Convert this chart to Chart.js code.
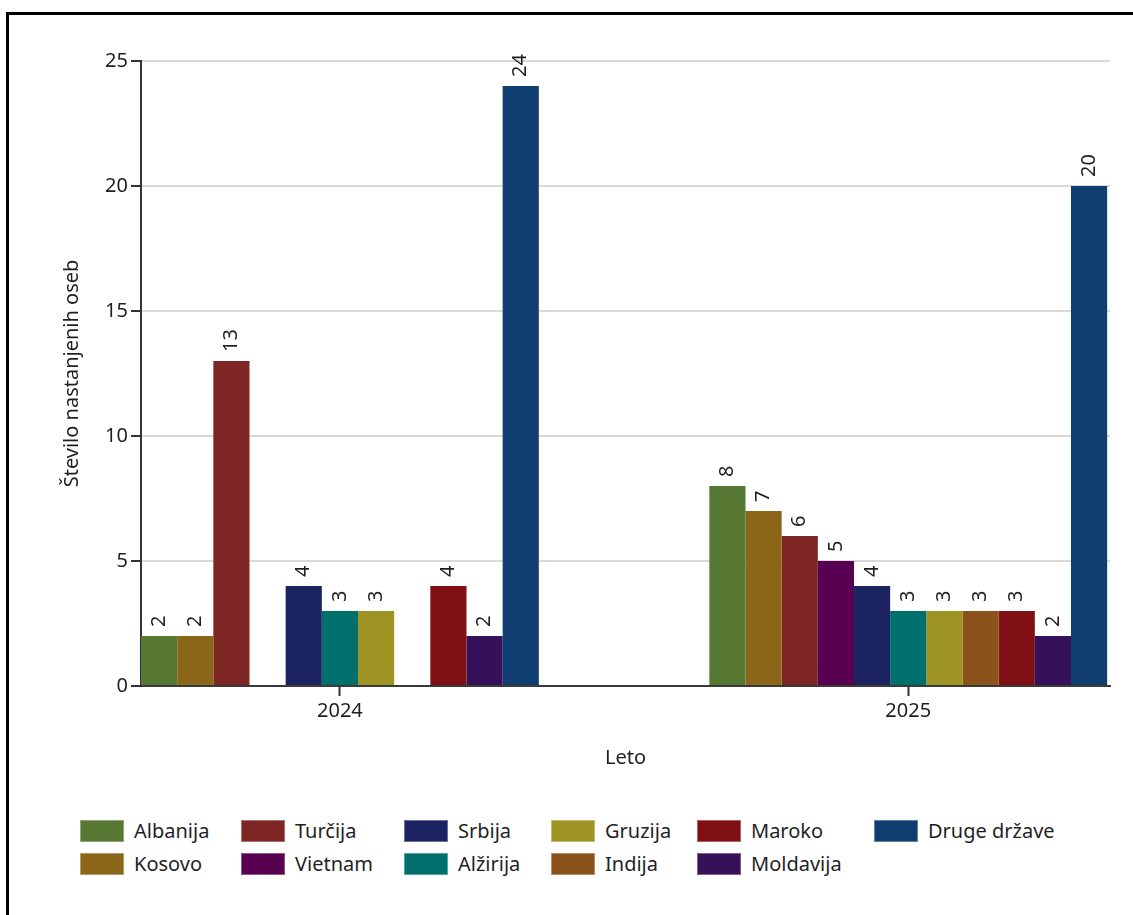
<!DOCTYPE html>
<html lang="sl">
<head>
<meta charset="utf-8">
<title>Število nastanjenih oseb po letih</title>
<script src="https://cdn.jsdelivr.net/npm/chart.js@4.4.1/dist/chart.umd.min.js"></script>
<style>
    html, body { margin: 0; padding: 0; background: #fff; }
    body { width: 1133px; height: 915px; position: relative; overflow: hidden; font-family: "Noto Sans", sans-serif; }
    #frame { position: absolute; left: 6px; top: 12px; width: 1200px; height: 1000px; border-left: 3px solid #000; border-top: 3px solid #000; box-sizing: border-box; pointer-events: none; }
    #chart { position: absolute; left: 0; top: 0; }
    #legend { position: absolute; left: 80px; top: 820px; display: grid; grid-auto-flow: column; grid-template-rows: 22px 22px; row-gap: 11px; grid-template-columns: 161px 163px 147px 146px 177px auto; }
    .legend-item { display: flex; align-items: center; font-size: 20px; line-height: 22px; color: #1f1f1f; white-space: nowrap; }
    .legend-swatch { width: 44px; height: 22px; margin-right: 10px; box-sizing: border-box; border: 1px solid rgba(255, 255, 255, 0.35); }
</style>
</head>
<body>
<div id="frame"></div>
<canvas id="chart" width="1133" height="800"></canvas>
<div id="legend"></div>
<script>
const years = ["2024", "2025"];
const countries = ["Albanija", "Kosovo", "Turčija", "Vietnam", "Srbija", "Alžirija", "Gruzija", "Indija", "Maroko", "Moldavija", "Druge države"];
const values2024 = [2, 2, 13, null, 4, 3, 3, null, 4, 2, 24];
const values2025 = [8, 7, 6, 5, 4, 3, 3, 3, 3, 2, 20];
const yTicks = [0, 5, 10, 15, 20, 25];

const palette = ["#567832", "#8b6619", "#7e2624", "#580052", "#1b2460", "#00706d", "#9e9423", "#8b521a", "#801014", "#35115a", "#113e70"];
const textColor = "#1f1f1f";

Chart.defaults.font.family = '"Noto Sans", sans-serif';
Chart.defaults.font.size = 20;
Chart.defaults.color = textColor;

// value labels above bars, rotated to read bottom-up
const barValueLabels = {
    id: "barValueLabels",
    afterDatasetsDraw(chart) {
        const ctx = chart.ctx;
        ctx.save();
        ctx.font = '20px "Noto Sans", sans-serif';
        ctx.fillStyle = textColor;
        ctx.textAlign = "left";
        ctx.textBaseline = "middle";
        chart.data.datasets.forEach((ds, di) => {
            const meta = chart.getDatasetMeta(di);
            meta.data.forEach((bar, i) => {
                const v = ds.data[i].y;
                if (v === null || v === undefined) return;
                ctx.save();
                ctx.translate(bar.x, bar.y - 9);
                ctx.rotate(-Math.PI / 2);
                ctx.fillText(String(v), 0, 0);
                ctx.restore();
            });
        });
        ctx.restore();
    }
};

const datasets = countries.map((name, i) => ({
    label: name,
    data: [
        { x: 0, y: values2024[i] },
        { x: 1, y: values2025[i] }
    ],
    backgroundColor: palette[i],
    borderWidth: 0
}));

new Chart(document.getElementById("chart").getContext("2d"), {
    type: "bar",
    data: { datasets },
    options: {
        responsive: false,
        animation: false,
        categoryPercentage: 0.7,
        barPercentage: 1.0,
        layout: { padding: { left: 50, right: 23, top: 61, bottom: 0 } },
        plugins: {
            legend: { display: false },
            tooltip: { enabled: false }
        },
        scales: {
            x: {
                type: "linear",
                min: -0.35,
                max: 1.355,
                offset: false,
                afterBuildTicks: (axis) => {
                    axis.ticks = years.map((y, i) => ({ value: i }));
                },
                afterFit: (axis) => { axis.height = 114; },
                ticks: {
                    callback: (value) => years[value] ?? "",
                    padding: 3,
                    maxRotation: 0,
                    autoSkip: false,
                    color: textColor
                },
                grid: {
                    offset: false,
                    drawOnChartArea: false,
                    drawTicks: true,
                    tickLength: 10,
                    tickColor: "#333",
                    tickWidth: 2
                },
                border: { display: true, color: "#3a3a3a", width: 2 },
                title: {
                    display: true,
                    text: "Leto",
                    color: textColor,
                    padding: { top: 0, bottom: 30 }
                }
            },
            y: {
                min: yTicks[0],
                max: yTicks[yTicks.length - 1],
                afterFit: (axis) => { axis.width = 91; },
                ticks: {
                    stepSize: yTicks[1] - yTicks[0],
                    padding: 3,
                    color: textColor
                },
                grid: {
                    color: (c) => (c.tick && c.tick.value === 0 ? "rgba(0,0,0,0)" : "#d9d9d9"),
                    lineWidth: 2,
                    drawTicks: true,
                    tickLength: 10,
                    tickColor: "#333",
                    tickWidth: 2
                },
                border: { display: true, color: "#333", width: 2 },
                title: {
                    display: true,
                    text: "Število nastanjenih oseb",
                    color: textColor,
                    padding: { top: 10, bottom: 0 }
                }
            }
        }
    },
    plugins: [barValueLabels]
});

// legend laid out column by column, two rows
const legendEl = document.getElementById("legend");
countries.forEach((name, i) => {
    const item = document.createElement("div");
    item.className = "legend-item";
    const swatch = document.createElement("span");
    swatch.className = "legend-swatch";
    swatch.style.background = palette[i];
    const label = document.createElement("span");
    label.textContent = name;
    item.appendChild(swatch);
    item.appendChild(label);
    legendEl.appendChild(item);
});
</script>
</body>
</html>
